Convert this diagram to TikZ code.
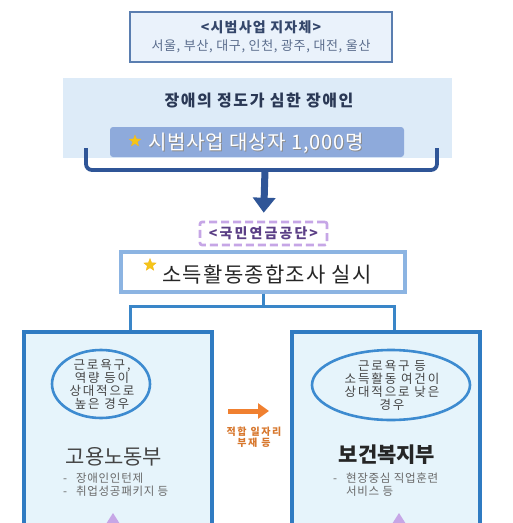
\documentclass[tikz,border=0pt]{standalone}
\usepackage{fontspec}
\setmainfont{Noto Sans CJK KR}
\usepackage{tikz}
\usetikzlibrary{arrows.meta,positioning,shapes.geometric,calc}
\definecolor{steel}{HTML}{5A7EB0}
\definecolor{ice}{HTML}{EAF2FB}
\definecolor{inkblue}{HTML}{34466A}
\definecolor{greyblue}{HTML}{5A6C8C}
\definecolor{band}{HTML}{DDEBF8}
\definecolor{barblue}{HTML}{8EAADB}
\definecolor{navy}{HTML}{2F5597}
\definecolor{lilac}{HTML}{C6A6E6}
\definecolor{plum}{HTML}{5B3F86}
\definecolor{sky}{HTML}{8CB4E2}
\definecolor{wire}{HTML}{3A86C8}
\definecolor{deptblue}{HTML}{2F7BC2}
\definecolor{deptfill}{HTML}{E6F4FB}
\definecolor{ovalblue}{HTML}{3D8BD0}
\definecolor{gold}{HTML}{F5C518}
\definecolor{orange}{HTML}{F08030}
\definecolor{rust}{HTML}{D8782E}
\definecolor{grey}{HTML}{444444}
\newcommand{\fsz}[3]{\fontsize{#1}{#2}\selectfont\addfontfeatures{LetterSpace=#3}}
\tikzset{
  cityBox/.style={draw=steel,fill=ice,line width=2.6pt,minimum width=262pt,minimum height=50pt,inner sep=0pt},
  deptBox/.style={draw=deptblue,fill=deptfill,line width=3.2pt,minimum width=188pt,minimum height=220pt,inner sep=0pt},
  oval/.style={ellipse,draw=ovalblue,fill=deptfill,line width=2.6pt,inner sep=0pt},
  ovaltxt/.style={align=center,font=\fsz{12.5}{13}{15},text=grey},
  conn/.style={draw=wire,line width=3pt},
  gold star/.style={star,star points=5,star point ratio=2.3,fill=gold,draw=gold!80!orange,line width=0.3pt,inner sep=0pt,minimum size=13pt},
  bullet/.style={anchor=north west,align=left,inner sep=0pt,text=grey!80,font=\fsz{11.5}{13}{6}},
}
\begin{document}
\begin{tikzpicture}[x=1pt,y=-1pt]
\clip (0,0) rectangle (513,523);
\fill[white] (0,0) rectangle (513,523);
% target cities
\node[cityBox] (city) at (261,37) {};
\node[font=\fsz{14}{15}{9}\bfseries,text=inkblue] (cityhd) at (261,27) {<시범사업 지자체>};
\node[font=\fsz{13}{14}{5},text=greyblue] (citylist) at (261,46) {서울, 부산, 대구, 인천, 광주, 대전, 울산};
% target group
\node[fill=band,minimum width=389pt,minimum height=80pt,inner sep=0pt] (band) at (257.5,118) {};
\node[font=\fsz{16}{17}{10}\bfseries,text=inkblue!80!black] (bandhd) at (259,101) {장애의 정도가 심한 장애인};
\node[fill=barblue,rounded corners=3pt,minimum width=294pt,minimum height=30pt,inner sep=0pt] (bar) at (257,142) {};
\node[gold star,minimum size=12pt] (s1) at (135,141) {};
\node[font=\fsz{20}{21}{4},text=black!45] at (257,143.8) {시범사업 대상자 1,000명};
\node[font=\fsz{20}{21}{4},text=white] (bartxt) at (256,143) {시범사업 대상자 1,000명};
% bracket and arrow
\draw[navy,line width=3.8pt,rounded corners=6pt] (86,148) -- (86,170) -- (437,170) -- (437,148);
\coordinate (bmid) at (265,170);
\node[draw=lilac,dashed,dash pattern=on 8pt off 4pt,line width=2.6pt,rounded corners=2pt,minimum width=127pt,minimum height=23pt,inner sep=0pt,font=\fsz{14}{14}{15}\bfseries,text=plum] (nps) at (263.5,233.5) {<국민연금공단>};
\draw[navy,line width=7pt,-{Triangle[length=15pt,width=22pt]},shorten >=8pt] (bmid) -- (nps.north);
% survey
\node[draw=sky,fill=white,line width=3.4pt,minimum width=284pt,minimum height=40pt,inner sep=0pt] (survey) at (263,272) {};
\node[gold star] (s2) at (150,265) {};
\node[font=\fsz{21}{22}{6},text=black!85] (surveytxt) at (267,275) {소득활동종합조사 실시};
% departments
\node[deptBox] (emp) at (118,442) {};
\node[deptBox] (wel) at (386,442) {};
\draw[conn] (survey.south) -- ++(0,13) -| ([xshift=12pt]emp.north);
\draw[conn] (survey.south) -- ++(0,13) -| ([xshift=8pt]wel.north);
\node[oval,minimum width=98pt,minimum height=68pt] (e1) at (101,384) {};
\node[ovaltxt] (e1txt) at ([xshift=1pt]e1.center) {근로욕구,\\역량 등이\\상대적으로\\높은 경우};
\node[oval,minimum width=158pt,minimum height=70pt] (e2) at (391,385) {};
\node[ovaltxt] (e2txt) at ([xshift=1pt]e2.center) {근로욕구 등\\소득활동 여건이\\상대적으로 낮은\\경우};
\node[font=\fontsize{21}{23}\selectfont,text=grey] (emphd) at (114,457) {고용노동부};
\node[font=\fontsize{21}{23}\selectfont\bfseries,text=black!85] (welhd) at (387,455) {보건복지부};
\node[bullet] (emplist) at (63,473) {-\hspace{9pt}장애인인턴제\\-\hspace{9pt}취업성공패키지 등};
\node[bullet] (wellist) at (333,473) {-\hspace{9pt}현장중심 직업훈련\\\phantom{-}\hspace{9pt}서비스 등};
\fill[lilac] (106,524) -- (113,513) -- (120,524) -- cycle;
\fill[lilac] (392,524) -- (399,513) -- (406,524) -- cycle;
% referral
\coordinate (oa) at (228,411);
\coordinate (ob) at (269,411);
\draw[orange,line width=5pt,-{Triangle[length=11pt,width=15pt]}] (oa) -- (ob);
\node[align=center,font=\fsz{10}{10.5}{16}\bfseries,text=rust] (gap) at (254,437) {적합 일자리\\부재 등};
\end{tikzpicture}
\end{document}
